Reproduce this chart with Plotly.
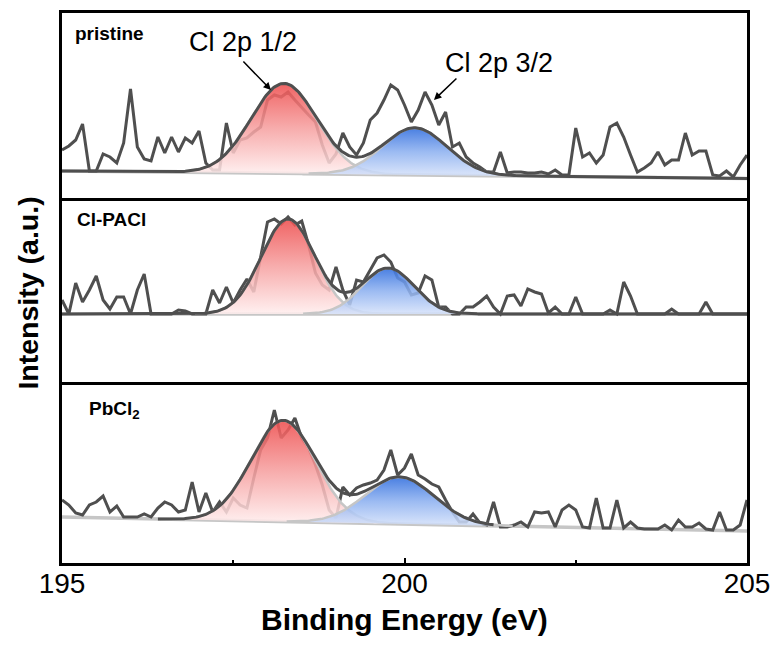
import numpy as np
import plotly.graph_objects as go
from plotly.subplots import make_subplots

# ---------------- data ----------------
# binding energy grid of the measured spectra (eV), 0.1 eV step
energy = np.round(195 + 0.1 * np.arange(101), 1)

# measured (raw) intensities, a.u.
raw_pristine = [48, 52, 58, 74, 27, 27, 44, 41, 35, 55, 109, 51, 39, 37, 61, 45, 61, 46, 60, 55,
                67, 35, 28, 28, 75, 45, 58, 60, 66, 71, 98, 103, 101, 106, 98, 90, 83, 76, 53, 35,
                44, 65, 51, 43, 55, 78, 85, 98, 113, 108, 93, 76, 88, 106, 93, 73, 86, 51, 55, 41,
                35, 31, 26, 26, 46, 25, 26, 26, 25, 25, 26, 24, 28, 23, 23, 70, 41, 45, 35, 43,
                71, 75, 61, 43, 26, 30, 35, 46, 33, 38, 38, 65, 43, 47, 47, 23, 22, 27, 21, 33, 43]

raw_clpacl = [82, 68, 99, 80, 92, 106, 82, 73, 85, 85, 68, 92, 108, 68, 68, 68, 68, 72, 71, 68,
              68, 68, 92, 79, 95, 79, 92, 103, 90, 127, 160, 163, 158, 165, 157, 161, 137, 109, 97, 92,
              115, 92, 77, 102, 100, 112, 124, 127, 120, 104, 100, 87, 89, 106, 102, 75, 75, 68, 68, 75,
              75, 80, 86, 75, 68, 86, 87, 76, 93, 90, 88, 69, 75, 68, 68, 85, 68, 68, 68, 68,
              72, 68, 100, 86, 68, 68, 68, 68, 68, 73, 68, 68, 68, 68, 80, 68, 68, 68, 68, 68, 68]

raw_pbcl2 = [63, 58, 50, 48, 58, 61, 67, 51, 57, 46, 46, 46, 49, 46, 55, 61, 58, 51, 53, 81,
             51, 70, 51, 61, 51, 65, 58, 55, 85, 113, 125, 153, 125, 133, 145, 125, 115, 98, 78, 53,
             45, 76, 68, 75, 78, 80, 83, 93, 113, 88, 95, 109, 88, 84, 79, 76, 63, 51, 41, 41,
             49, 40, 38, 61, 36, 36, 38, 41, 36, 51, 50, 51, 36, 53, 58, 53, 36, 35, 65, 35,
             35, 63, 35, 41, 35, 34, 34, 34, 38, 33, 43, 36, 36, 40, 34, 33, 51, 33, 33, 38, 63]

# fitted background (left, right) and Gaussian components (centre eV, height, sigma eV)
bg_pristine = [27.0, 19.5]
bg_clpacl = [68.0, 68.0]
bg_pbcl2 = [46.0, 32.0]

p12_pristine = [198.24, 90.0, 0.48]
p32_pristine = [200.15, 47.0, 0.47]
p12_clpacl = [198.30, 95.0, 0.39]
p32_clpacl = [199.76, 46.0, 0.38]
p12_pbcl2 = [198.23, 101.0, 0.47]
p32_pbcl2 = [199.93, 47.0, 0.50]

envelope_range = [[195.0, 205.0], [195.0, 205.0], [196.4, 201.3]]

sample_labels = ["<b>pristine</b>", "<b>Cl-PACl</b>", "<b>PbCl<sub>2</sub></b>"]
peak_labels = ["Cl 2p 1/2", "Cl 2p 3/2"]
x_ticks = [195, 200, 205]

# ---------------- figure ----------------
FONT = "Liberation Sans, Arial, sans-serif"
fig = make_subplots(rows=3, cols=1, shared_xaxes=True, vertical_spacing=0)

xf = np.linspace(195, 205, 501)


def gauss(x, p):
    c, h, s = p
    return h * np.exp(-(x - c) ** 2 / (2 * s ** 2))


panels = [
    (raw_pristine, bg_pristine, p12_pristine, p32_pristine),
    (raw_clpacl, bg_clpacl, p12_clpacl, p32_clpacl),
    (raw_pbcl2, bg_pbcl2, p12_pbcl2, p32_pbcl2),
]

red_scale = [[0, "rgba(255,238,238,0.86)"], [0.5, "rgba(246,160,160,0.86)"], [1, "rgba(238,78,78,0.88)"]]
blue_scale = [[0, "rgba(214,226,250,0.86)"], [0.5, "rgba(140,176,240,0.86)"], [1, "rgba(52,112,222,0.9)"]]

DARK = "#4f4f4f"
LIGHT = "#c6c6c6"

for r, (raw, bg, pa, pb) in enumerate(panels, start=1):
    bgf = bg[0] + (bg[1] - bg[0]) * (xf - 195) / 10.0
    ga = gauss(xf, pa)
    gb = gauss(xf, pb)

    # background line
    fig.add_trace(go.Scatter(x=xf, y=bgf, mode="lines", line=dict(color=LIGHT, width=3.5),
                             hoverinfo="skip", showlegend=False), row=r, col=1)
    # raw data
    fig.add_trace(go.Scatter(x=energy, y=raw, mode="lines", line=dict(color=DARK, width=3),
                             showlegend=False), row=r, col=1)
    # components
    for g, cs in ((ga, red_scale), (gb, blue_scale)):
        m = g > 0.2
        xs = xf[m]
        top = (bgf + g)[m]
        bot = bgf[m]
        fig.add_trace(go.Scatter(x=np.concatenate([xs, xs[::-1]]), y=np.concatenate([top, bot[::-1]]),
                                 mode="lines", line=dict(width=0), fill="toself",
                                 fillgradient=dict(type="vertical", colorscale=cs),
                                 hoverinfo="skip", showlegend=False), row=r, col=1)
        fig.add_trace(go.Scatter(x=xs, y=top, mode="lines", line=dict(color=LIGHT, width=2.5),
                                 hoverinfo="skip", showlegend=False), row=r, col=1)
    # envelope
    lo, hi = envelope_range[r - 1]
    me = (xf >= lo) & (xf <= hi)
    fig.add_trace(go.Scatter(x=xf[me], y=(bgf + ga + gb)[me], mode="lines",
                             line=dict(color=DARK, width=3), showlegend=False), row=r, col=1)

# axes
domains = [[0.66364, 1.0], [0.32909, 0.66364], [0.0, 0.32909]]
yranges = [[0, 185], [0, 184], [0, 181]]
for i in range(3):
    ax = "" if i == 0 else str(i + 1)
    fig.layout["yaxis" + ax].update(domain=domains[i], range=yranges[i], showline=True, mirror=True,
                                    linecolor="black", linewidth=2.5, showticklabels=False,
                                    ticks="", showgrid=False, zeroline=False, automargin=False)
    fig.layout["xaxis" + ax].update(range=[195, 205], showline=True, mirror=(i == 0),
                                    linecolor="black", linewidth=2.5, showgrid=False,
                                    zeroline=False, showticklabels=False, ticks="",
                                    automargin=False)

fig.layout.xaxis3.update(showticklabels=True, tickvals=x_ticks, ticktext=[str(t) for t in x_ticks],
                         ticks="inside", ticklen=5, tickwidth=2, tickcolor="black",
                         ticklabelstandoff=-6,
                         tickfont=dict(family=FONT, size=28, color="black"),
                         minor=dict(tickvals=[197.5, 202.5], ticks="inside", ticklen=3,
                                    tickwidth=2, tickcolor="black"))

ann = []
label_pos = [(195.16, 165, "x", "y"), (195.19, 162, "x2", "y2"), (195.36, 153, "x3", "y3")]
for txt, (lx, ly, xr, yr) in zip(sample_labels, label_pos):
    ann.append(dict(text=txt, x=lx, y=ly, xref=xr, yref=yr, xanchor="left", yanchor="middle",
                    showarrow=False, font=dict(family=FONT, size=19, color="black")))

ann.append(dict(text=peak_labels[0], x=197.64, y=156, xref="x", yref="y", showarrow=False,
                font=dict(family=FONT, size=27, color="black")))
ann.append(dict(text=peak_labels[1], x=201.38, y=135, xref="x", yref="y", showarrow=False,
                font=dict(family=FONT, size=27, color="black")))
ann.append(dict(text="", x=198.05, y=108, xref="x", yref="y", ax=-29, ay=-30, showarrow=True,
                arrowhead=2, arrowsize=1, arrowwidth=1.5, arrowcolor="black"))
ann.append(dict(text="", x=200.43, y=98, xref="x", yref="y", ax=24, ay=-23, showarrow=True,
                arrowhead=2, arrowsize=1, arrowwidth=1.5, arrowcolor="black"))

ann.append(dict(text="<b>Intensity (a.u.)</b>", x=-0.051, y=0.49, xref="paper", yref="paper",
                textangle=-90, showarrow=False, xanchor="center", yanchor="middle",
                font=dict(family=FONT, size=28.5, color="black")))
ann.append(dict(text="<b>Binding Energy (eV)</b>", x=0.5, y=-0.1036, xref="paper", yref="paper",
                showarrow=False, xanchor="center", yanchor="middle",
                font=dict(family=FONT, size=30, color="black")))

fig.update_layout(width=775, height=648, margin=dict(l=62, r=28, t=13, b=85),
                  paper_bgcolor="white", plot_bgcolor="white", annotations=ann,
                  showlegend=False, font=dict(family=FONT))

fig.write_html("out.html", config={"displayModeBar": False},
               post_script="document.body.style.margin='0';")
